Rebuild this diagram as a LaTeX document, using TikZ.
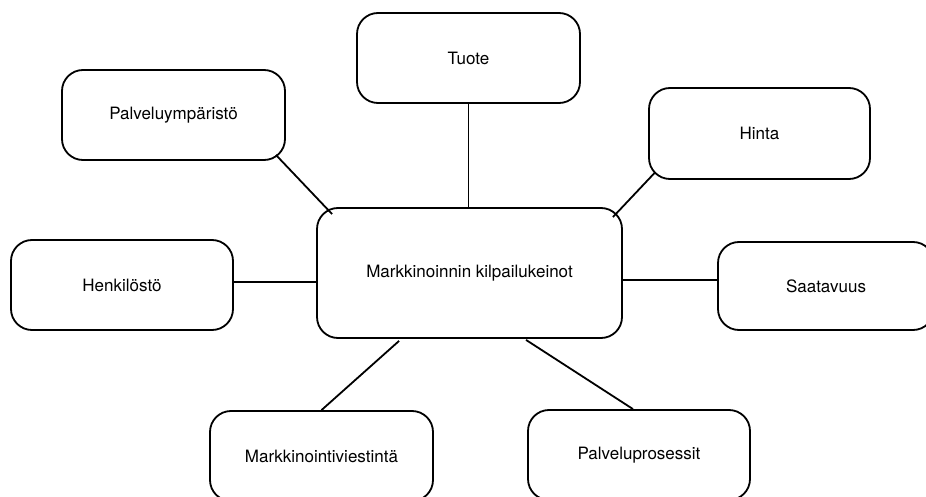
\documentclass[tikz,border=0pt]{standalone}
\usepackage{fontspec}
\setmainfont{TeX Gyre Heros}
\usetikzlibrary{calc}
\begin{document}
\begin{tikzpicture}[x=1pt,y=-1pt,
  box/.style={draw, line width=1.8pt, rounded corners=21pt, minimum width=223pt, minimum height=90pt, inner sep=0pt, font=\fontsize{17}{20}\selectfont, text=black},
  link/.style={line width=1.8pt}]
\useasboundingbox (0,0) rectangle (926,497);
\node[box] (pal) at (173.5,115) {Palveluympäristö};
\node[box] (tuote) at (468.5,58) {Tuote};
\node[box, minimum width=221pt, minimum height=91pt] (hinta) at (759.5,133.5) {Hinta};
\node[box, minimum width=222pt] (henk) at (122,285) {Henkilöstö};
\node[box, minimum width=305pt, minimum height=130pt] (mid) at (469.5,273) {Markkinoinnin kilpailukeinot};
\node[box, minimum width=216pt, minimum height=88pt] (saat) at (826,286) {Saatavuus};
\node[box] (viest) at (321.5,456) {Markkinointiviestintä};
\node[box, minimum width=222pt] (pros) at (639,455) {Palveluprosessit};
\draw[link] ($(pal.south east)+(-10,-6)$) -- ($(mid.north west)+(16,7)$);
\draw[link] (tuote.south) -- (tuote.south |- mid.north);
\draw[link] ($(hinta.south west)+(6.5,-7)$) -- ($(mid.north east)+(-10,10)$);
\draw[link] ($(henk.east)+(0,-3)$) -- ($(henk.east -| mid.west)+(0,-3)$);
\draw[link] ($(saat.west)+(0,-6)$) -- ($(saat.west -| mid.east)+(0,-6)$);
\draw[link] ($(mid.south west)+(83,2)$) -- (viest.north);
\draw[link] ($(mid.south)+(56.5,1)$) -- ($(pros.north)+(-6,0)$);
\end{tikzpicture}
\end{document}
